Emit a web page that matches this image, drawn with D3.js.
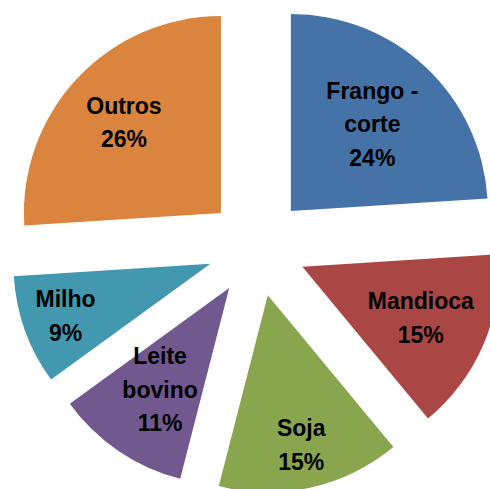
<!DOCTYPE html>
<html>
<head>
<meta charset="utf-8">
<script src="https://cdn.jsdelivr.net/npm/d3@7"></script>
<style>
  html, body { margin: 0; padding: 0; background: #fff; }
  svg { display: block; }
</style>
</head>
<body>
<svg id="chart" width="490" height="489"></svg>
<script>
// Participação por produto (%)
const categories = ["Frango - corte", "Mandioca", "Soja", "Leite bovino", "Milho", "Outros"];
const values = [24, 15, 15, 11, 9, 26];
// Label line breaks
const labelLines = [["Frango -", "corte"], ["Mandioca"], ["Soja"], ["Leite", "bovino"], ["Milho"], ["Outros"]];
const colors = ["#4572A7", "#AA4643", "#89A54E", "#71588F", "#4198AF", "#DB843D"];

const width = 490, height = 489;
const cx = 257, cy = 247;
const radius = 197;
const explode = 49.5;
// distance of each label block from its slice apex
const labelDist = [119, 129, 153, 123, 154, 133];
const fontSize = 23, lineH = 33.5, capH = 16.5;

const svg = d3.select("#chart");
const g = svg.append("g").attr("transform", `translate(${cx},${cy})`);

const data = categories.map((c, i) => ({ name: c, value: values[i], lines: labelLines[i] }));
const pie = d3.pie().value(d => d.value).sort(null).startAngle(0).endAngle(2 * Math.PI);
const arc = d3.arc().innerRadius(0).outerRadius(radius);
const arcs = pie(data);

const slice = g.selectAll("g.slice").data(arcs).join("g")
  .attr("class", "slice")
  .attr("transform", d => {
    const a = (d.startAngle + d.endAngle) / 2;
    return `translate(${explode * Math.sin(a)},${-explode * Math.cos(a)})`;
  });

slice.append("path")
  .attr("d", arc)
  .attr("fill", (d, i) => colors[i]);

slice.each(function (d, i) {
  const a = (d.startAngle + d.endAngle) / 2;
  const lx = labelDist[i] * Math.sin(a);
  const ly = -labelDist[i] * Math.cos(a);
  const lines = d.data.lines.concat([d3.format(".0f")(d.value) + "%"]);
  const n = lines.length;
  const t = d3.select(this).append("text")
    .attr("text-anchor", "middle")
    .attr("font-family", "'Liberation Sans', Arial, sans-serif")
    .attr("font-weight", "bold")
    .attr("font-size", fontSize)
    .attr("fill", "#000");
  lines.forEach((s, k) => {
    t.append("tspan")
      .attr("x", lx)
      .attr("y", ly + (k - (n - 1) / 2) * lineH + capH / 2)
      .text(s);
  });
});
</script>
</body>
</html>
